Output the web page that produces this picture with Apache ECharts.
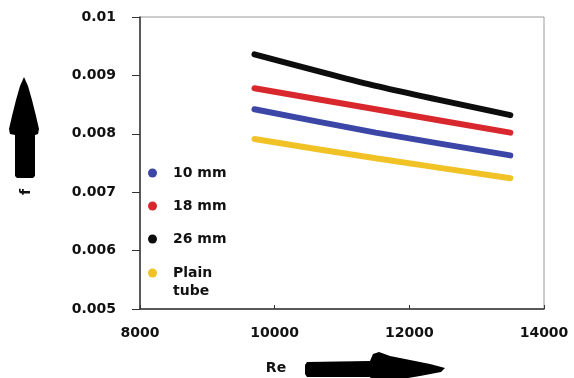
<!DOCTYPE html>
<html lang="en">
  <head>
    <meta charset="UTF-8" />
    <title>f vs Re</title>
    <script src="https://cdn.jsdelivr.net/npm/echarts@6/dist/echarts.min.js"></script>
    <style>
      * { margin: 0; padding: 0; }
      body { background: #fff; }
      #chart { width: 574px; height: 378px; }
    </style>
  </head>
  <body>
    <div id="chart"></div>
    <script>
      /* ---------- data ---------- */
      const reValues = [9700, 11500, 13500];
      const f10mm = [0.00842, 0.00802, 0.00763];
      const f18mm = [0.00878, 0.00842, 0.00802];
      const f26mm = [0.00936, 0.00882, 0.00832];
      const fPlain = [0.00791, 0.00758, 0.00724];

      const seriesNames = ["10 mm", "18 mm", "26 mm", "Plain tube"];
      const seriesColors = ["#3b46a6", "#d8282e", "#0d0d0d", "#f1c226"];

      /* ---------- helpers ---------- */
      const font = "DejaVu Sans";
      const pair = (ys) => reValues.map((x, i) => [x, ys[i]]);

      const chart = echarts.init(document.getElementById("chart"), null, {
        renderer: "canvas",
      });

      const lineSeries = (name, ys, color) => ({
        name,
        type: "line",
        data: pair(ys),
        showSymbol: false,
        symbol: "circle",
        smooth: 0.2,
        lineStyle: { color, width: 6, cap: "round" },
        itemStyle: { color },
        emphasis: { disabled: true },
      });

      const legendRich = {
        t: {
          fontFamily: font,
          fontWeight: "bold",
          fontSize: 14,
          color: "#111",
          lineHeight: 18,
          padding: [0, 0, 0, 11],
        },
      };

      const legendBase = {
        orient: "vertical",
        left: 148,
        padding: 0,
        icon: "circle",
        itemWidth: 9,
        itemHeight: 9,
        itemGap: 19,
        selectedMode: false,
        textStyle: { rich: legendRich },
      };

      const option = {
        backgroundColor: "#fff",
        animation: false,
        grid: {
          left: 140,
          right: 30,
          top: 17,
          bottom: 69,
          show: true,
          borderColor: "#9a9a9a",
          borderWidth: 1,
        },
        xAxis: {
          type: "value",
          min: 8000,
          max: 14000,
          interval: 2000,
          axisLine: { show: true, lineStyle: { color: "#333", width: 1.5 } },
          axisTick: { show: true, inside: true, length: 4, lineStyle: { color: "#333" } },
          splitLine: { show: false },
          axisLabel: {
            margin: 17,
            fontFamily: font,
            fontWeight: "bold",
            fontSize: 14,
            color: "#111",
            formatter: (v) => String(v),
          },
        },
        yAxis: {
          type: "value",
          min: 0.005,
          max: 0.01,
          interval: 0.001,
          axisLine: { show: true, lineStyle: { color: "#333", width: 1.5 } },
          axisTick: { show: true, length: 8, lineStyle: { color: "#333" } },
          splitLine: { show: false },
          axisLabel: {
            margin: 24,
            fontFamily: font,
            fontWeight: "bold",
            fontSize: 14,
            color: "#111",
            formatter: (v) => String(+v.toFixed(3)),
          },
        },
        legend: [
          Object.assign({}, legendBase, {
            data: seriesNames.slice(0, 3),
            top: 166,
            formatter: (name) => "{t|" + name + "}",
          }),
          Object.assign({}, legendBase, {
            data: [seriesNames[3]],
            top: 248,
            // blank first line keeps the dot level with "Plain"
            formatter: () => "{t| }\n{t|Plain}\n{t|tube}",
          }),
        ],
        graphic: [
          {
            type: "polygon",
            shape: {
              points: [
                [24, 77], [20, 86], [16, 100], [12, 116], [9, 129], [10, 134],
                [15, 135], [15, 176], [17, 178], [33, 178], [35, 176], [35, 135],
                [38, 134], [39, 129], [36, 116], [32, 100], [28, 86],
              ],
            },
            style: { fill: "#000" },
          },
          {
            type: "text",
            x: 26,
            y: 192,
            rotation: Math.PI / 2,
            style: {
              text: "f",
              font: "bold 14px DejaVu Sans",
              fill: "#111",
              align: "center",
              verticalAlign: "middle",
            },
          },
          {
            type: "text",
            x: 276,
            y: 368,
            style: {
              text: "Re",
              font: "bold 14px DejaVu Sans",
              fill: "#111",
              align: "center",
              verticalAlign: "middle",
            },
          },
          {
            type: "polygon",
            shape: {
              points: [
                [307, 362], [370, 361], [373, 354], [379, 352], [390, 356],
                [410, 360], [430, 364], [445, 368], [441, 372], [420, 376],
                [396, 380], [379, 384], [373, 382], [370, 377], [307, 377],
                [305, 374], [305, 365],
              ],
            },
            style: { fill: "#000" },
          },
        ],
        series: [
          lineSeries(seriesNames[0], f10mm, seriesColors[0]),
          lineSeries(seriesNames[1], f18mm, seriesColors[1]),
          lineSeries(seriesNames[2], f26mm, seriesColors[2]),
          lineSeries(seriesNames[3], fPlain, seriesColors[3]),
        ],
      };

      chart.setOption(option);
    </script>
  </body>
</html>
